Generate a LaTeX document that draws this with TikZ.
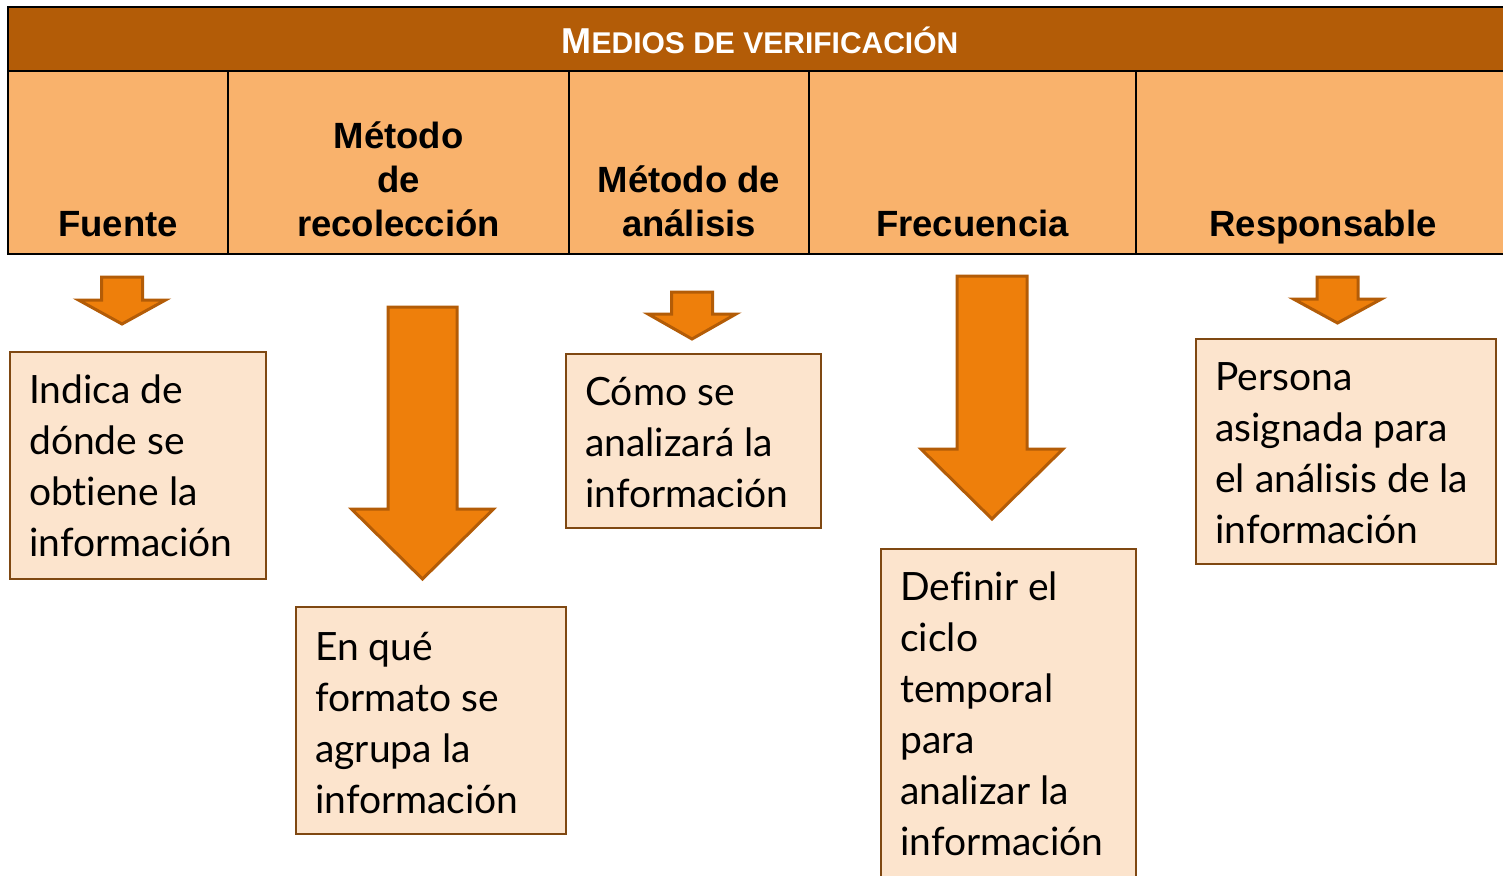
\documentclass[tikz,border=0pt]{standalone}
\usepackage{fontspec}
\setmainfont{Lato}[Ligatures=NoCommon]
\newfontfamily\arialfont{Liberation Sans}
\usetikzlibrary{positioning}

\definecolor{headbrown}{RGB}{179,92,7}
\definecolor{cellorange}{RGB}{249,178,108}
\definecolor{boxpeach}{RGB}{252,228,205}
\definecolor{boxline}{RGB}{127,72,18}
\definecolor{arroworange}{RGB}{238,127,11}
\definecolor{arrowline}{RGB}{179,92,7}

\tikzset{
	colhead/.style={font=\arialfont\bfseries\fontsize{36.5}{44}\selectfont,align=center,anchor=north,inner sep=0pt},
	infobox/.style={draw=boxline,line width=2pt,fill=boxpeach,anchor=north west,inner sep=0pt},
	infotext/.style={font=\fontsize{39}{51}\selectfont,align=left,anchor=north west,inner sep=0pt},
	blockarrow/.style={draw=arrowline,line width=3pt,fill=arroworange,line join=miter}
}

% centre x, top, half shaft, half head, head start, tip
\newcommand\flecha[6]{%
	\draw[blockarrow] (#1-#3,#2) -- (#1+#3,#2) -- (#1+#3,#5) -- (#1+#4,#5)
		-- (#1,#6) -- (#1-#4,#5) -- (#1-#3,#5) -- cycle;}

\begin{document}
\begin{tikzpicture}[x=1pt,y=-1pt]
	\useasboundingbox (0,0) rectangle (1503,875);
	\clip (0,0) rectangle (1503,875);

	% table
	\fill[headbrown] (8,7) rectangle (1520,71);
	\fill[cellorange] (8,71) rectangle (1520,254);
	\draw[line width=2.5pt] (1520,7) -- (8,7) -- (8,254) -- (1520,254);
	\draw[line width=2.5pt] (8,71) -- (1520,71);
	\foreach \x in {228,569,809,1136}
		\draw[line width=2.5pt] (\x,71) -- (\x,254);

	\node[font=\arialfont\bfseries,text=white,anchor=base,inner sep=0pt] (title) at (760,54)
		{{\fontsize{36}{36}\selectfont M}{\fontsize{30}{30}\selectfont EDIOS DE VERIFICACIÓN}};

	\node[colhead] (fuente) at (118,205.2) {\strut Fuente};
	\node[colhead] (recoleccion) at (398.5,117.2) {\strut Método\\de\\recolección};
	\node[colhead] (analisis) at (689,161.2) {\strut Método de\\análisis};
	\node[colhead] (frecuencia) at (972.5,205.2) {\strut Frecuencia};
	\node[colhead] (responsable) at (1323,205.2) {\strut Responsable};

	% arrows
	\flecha{122}{277}{20.5}{43.5}{300}{324}
	\flecha{422.5}{307}{34.5}{71}{509}{579}
	\flecha{692}{292}{20.5}{44}{314}{339}
	\flecha{992}{276}{35}{71}{449}{519}
	\flecha{1337.5}{277}{20.5}{44}{299}{323}

	% boxes
	\node[infobox,minimum width=256pt,minimum height=227pt] (fuentebox) at (9,351) {};
	\node[infobox,minimum width=270pt,minimum height=227pt] (recoleccionbox) at (295,606) {};
	\node[infobox,minimum width=255pt,minimum height=174pt] (analisisbox) at (565,353) {};
	\node[infobox,minimum width=255pt,minimum height=360pt] (frecuenciabox) at (880,548) {};
	\node[infobox,minimum width=300pt,minimum height=225pt] (responsablebox) at (1195,338) {};

	\node[infotext] (fuentetxt) at ([shift={(20pt,-16.3pt)}]fuentebox.north west)
		{\strut Indica de\\dónde se\\obtiene la\\información};
	\node[infotext] (recolecciontxt) at ([shift={(20pt,-18.3pt)}]recoleccionbox.north west)
		{\strut En qué\\formato se\\agrupa la\\información};
	\node[infotext] (analisistxt) at ([shift={(20pt,-16.3pt)}]analisisbox.north west)
		{\strut Cómo se\\analizará la\\información};
	\node[infotext] (frecuenciatxt) at ([shift={(20pt,-16.3pt)}]frecuenciabox.north west)
		{\strut Definir el\\ciclo\\temporal\\para\\analizar la\\información};
	\node[infotext] (responsabletxt) at ([shift={(20pt,-16.3pt)}]responsablebox.north west)
		{\strut Persona\\asignada para\\el análisis de la\\información};
\end{tikzpicture}
\end{document}
